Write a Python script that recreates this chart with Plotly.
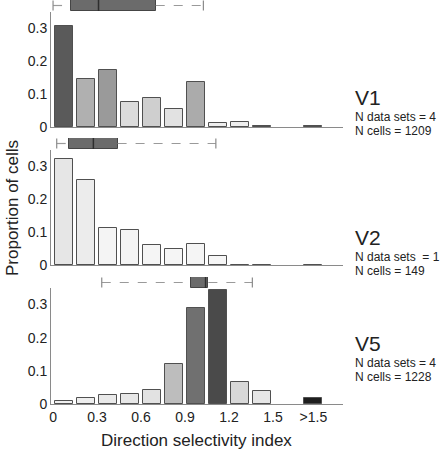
import plotly.graph_objects as go

# ---- data ----
bin_edges = [0, 0.15, 0.30, 0.45, 0.60, 0.75, 0.90, 1.05, 1.20, 1.35, 1.50]
overflow_center = 1.775  # position of the ">1.5" bin
tick_values = [0, 0.3, 0.6, 0.9, 1.2, 1.5, 1.775]
tick_labels = ["0", "0.3", "0.6", "0.9", "1.2", "1.5", ">1.5"]

v1_props = [0.307, 0.147, 0.175, 0.075, 0.088, 0.055, 0.138, 0.011, 0.014, 0.003, 0.004]
v2_props = [0.323, 0.260, 0.113, 0.106, 0.062, 0.048, 0.063, 0.028, 0.0, 0.0, 0.0]
v5_props = [0.009, 0.019, 0.028, 0.031, 0.041, 0.122, 0.289, 0.345, 0.065, 0.040, 0.019]

v1_colors = ["#5a5a5a", "#b0b0b0", "#9a9a9a", "#dcdcdc", "#cfcfcf", "#e2e2e2",
             "#ababab", "#eeeeee", "#eeeeee", "#333333", "#1e1e1e"]
v2_colors = ["#e6e6e6", "#ececec", "#f4f4f4", "#f4f4f4", "#f5f5f5", "#f5f5f5",
             "#f5f5f5", "#f6f6f6", "#f6f6f6", "#f6f6f6", "#f6f6f6"]
v5_colors = ["#f0f0f0", "#eeeeee", "#e9e9e9", "#e7e7e7", "#e2e2e2", "#bdbdbd",
             "#707070", "#4a4a4a", "#d8d8d8", "#e6e6e6", "#1e1e1e"]

# box-plot summaries (lower whisker, q1, median, q3, upper whisker)
v1_box = [0.0, 0.12, 0.31, 0.70, 1.025]
v2_box = [0.025, 0.109, 0.275, 0.44, 1.11]
v5_box = [0.332, 0.939, 1.04, 1.059, 1.359]

areas = ["V1", "V2", "V5"]
n_datasets = ["N data sets = 4", "N data sets  = 1", "N data sets = 4"]
n_cells = ["N cells = 1209", "N cells = 149", "N cells = 1228"]

bin_centers = [(a + b) / 2 for a, b in zip(bin_edges[:-1], bin_edges[1:])] + [overflow_center]

# ---- layout geometry ----
W, H = 445, 455
ml, mr, mt, mb = 51, 102, 0, 51
plot_h = H - mt - mb
plot_w = W - ml - mr


def dom(top_px, bot_px):
    return [(plot_h - bot_px) / plot_h, (plot_h - top_px) / plot_h]


hist_domains = [dom(12, 127), dom(150, 265), dom(288, 404)]
box_domains = [dom(0, 11), dom(138, 149), dom(277, 288)]

xrange_ = [-0.014, 1.977]
bar_w = 0.123
FONT = "Liberation Sans, Arial, sans-serif"
AXC = "#8a8a8a"

fig = go.Figure()
layout = dict(width=W, height=H, margin=dict(l=ml, r=mr, t=mt, b=mb),
              paper_bgcolor="white", plot_bgcolor="white", showlegend=False,
              font=dict(family=FONT, size=13, color="#222"))

props_all = [v1_props, v2_props, v5_props]
colors_all = [v1_colors, v2_colors, v5_colors]
boxes_all = [v1_box, v2_box, v5_box]

for i in range(3):
    xa = "x" if i == 0 else f"x{i+1}"
    ya = "y" if i == 0 else f"y{i+1}"
    yb = f"y{i+4}"
    xkey = "xaxis" if i == 0 else f"xaxis{i+1}"
    ykey = "yaxis" if i == 0 else f"yaxis{i+1}"
    ybkey = f"yaxis{i+4}"

    fig.add_trace(go.Bar(x=bin_centers, y=props_all[i], width=bar_w,
                         marker=dict(color=colors_all[i], line=dict(color="#505050", width=1)),
                         xaxis=xa, yaxis=ya))

    lf, q1, med, q3, uf = boxes_all[i]
    # dashed whiskers (outside the box only)
    fig.add_trace(go.Scatter(x=[lf, q1, None, q3, uf], y=[0.5, 0.5, None, 0.5, 0.5],
                             mode="lines", connectgaps=False,
                             line=dict(color="#9a9a9a", width=1.2, dash="dash"),
                             xaxis=xa, yaxis=yb))
    # whisker caps
    fig.add_trace(go.Scatter(x=[lf, uf], y=[0.5, 0.5], mode="markers",
                             marker=dict(symbol="line-ns", size=7,
                                         line=dict(color="#8a8a8a", width=1.2)),
                             xaxis=xa, yaxis=yb))
    # box
    fig.add_trace(go.Bar(x=[q3 - q1], y=[0.5], base=[q1], orientation="h", width=1.0,
                         marker=dict(color="#6b6b6b", line=dict(color="#454545", width=1)),
                         xaxis=xa, yaxis=yb))
    # median
    fig.add_trace(go.Scatter(x=[med], y=[0.5], mode="markers",
                             marker=dict(symbol="line-ns", size=11,
                                         line=dict(color="#2e2e2e", width=1.5)),
                             xaxis=xa, yaxis=yb))

    is_bottom = (i == 2)
    layout[xkey] = dict(domain=[0, 1], range=xrange_, anchor=ya,
                        showline=True, linecolor=AXC, linewidth=1,
                        showgrid=False, zeroline=False, ticks="",
                        tickvals=tick_values, ticktext=tick_labels,
                        showticklabels=is_bottom, tickfont=dict(size=14, color="#222"))
    layout[ykey] = dict(domain=hist_domains[i], range=[0, 0.35], anchor=xa,
                        showline=True, linecolor=AXC, linewidth=1,
                        showgrid=False, zeroline=False, ticks="",
                        tickvals=[0, 0.1, 0.2, 0.3], ticktext=["0", "0.1", "0.2", "0.3"],
                        tickfont=dict(size=14, color="#222"))
    layout[ybkey] = dict(domain=box_domains[i], range=[0, 1], anchor=xa,
                         visible=False, fixedrange=True)

fig.update_layout(**layout)
fig.update_layout(bargap=0, barmode="overlay")


def px_x(p):
    return (p - ml) / plot_w


def px_y(p):
    return (plot_h - p) / plot_h


# labels at the right
label_y_px = [[97, 117, 131], [237, 257, 271], [343, 363, 377]]
for i in range(3):
    ys = [px_y(p) for p in label_y_px[i]]
    fig.add_annotation(x=px_x(353), xref="paper", y=ys[0], yref="paper", text=areas[i],
                       showarrow=False, xanchor="left", yanchor="middle",
                       font=dict(size=21, color="#222"))
    fig.add_annotation(x=px_x(353), y=ys[1], xref="paper", yref="paper", text=n_datasets[i],
                       showarrow=False, xanchor="left", yanchor="middle",
                       font=dict(size=12, color="#222"))
    fig.add_annotation(x=px_x(353), y=ys[2], xref="paper", yref="paper", text=n_cells[i],
                       showarrow=False, xanchor="left", yanchor="middle",
                       font=dict(size=12, color="#222"))

fig.add_annotation(text="Proportion of cells", textangle=-90, showarrow=False,
                   xref="paper", yref="paper", x=px_x(12),
                   y=px_y(208), xanchor="center", yanchor="middle",
                   font=dict(size=17, color="#222"))
fig.add_annotation(text="Direction selectivity index", showarrow=False,
                   xref="paper", yref="paper", x=px_x(196),
                   y=px_y(440), xanchor="center", yanchor="middle",
                   font=dict(size=17, color="#222"))

fig.write_html("out.html", config={"displayModeBar": False},
               post_script="document.body.style.margin='0';document.body.style.overflow='hidden';")
